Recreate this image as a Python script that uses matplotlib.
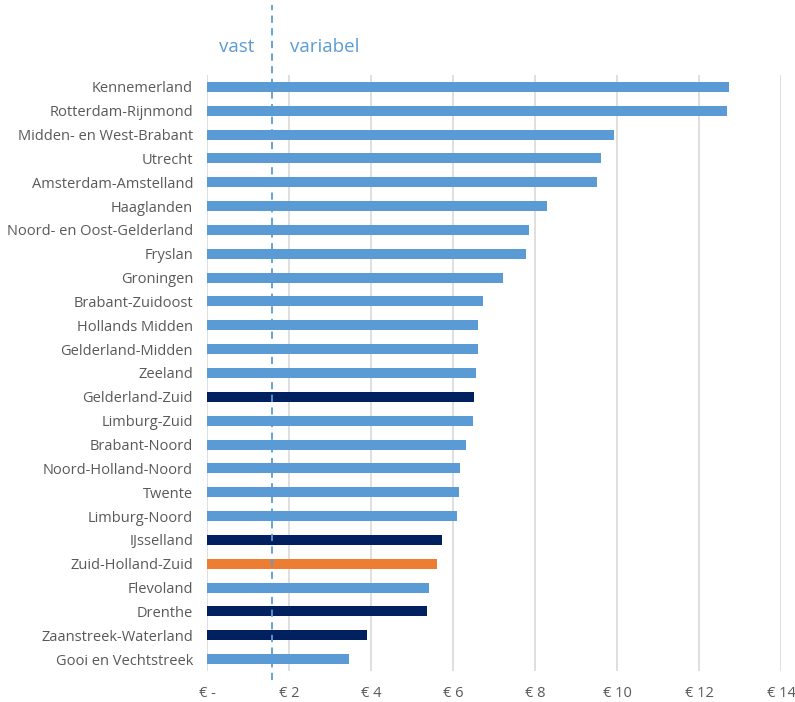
import numpy as np
from matplotlib import pyplot as plt
from matplotlib import transforms

regions = ['Kennemerland', 'Rotterdam-Rijnmond', 'Midden- en West-Brabant', 'Utrecht',
           'Amsterdam-Amstelland', 'Haaglanden', 'Noord- en Oost-Gelderland', 'Fryslan',
           'Groningen', 'Brabant-Zuidoost', 'Hollands Midden', 'Gelderland-Midden', 'Zeeland',
           'Gelderland-Zuid', 'Limburg-Zuid', 'Brabant-Noord', 'Noord-Holland-Noord', 'Twente',
           'Limburg-Noord', 'IJsselland', 'Zuid-Holland-Zuid', 'Flevoland', 'Drenthe',
           'Zaanstreek-Waterland', 'Gooi en Vechtstreek']
tarief = [12.72, 12.68, 9.93, 9.61, 9.50, 8.30, 7.86, 7.77, 7.21, 6.72, 6.60, 6.60, 6.55,
          6.51, 6.49, 6.32, 6.17, 6.15, 6.10, 5.74, 5.62, 5.42, 5.36, 3.91, 3.47]
# 'l' = licht blauw, 'd' = donker, 'o' = oranje
soort = ['l', 'l', 'l', 'l', 'l', 'l', 'l', 'l', 'l', 'l', 'l', 'l', 'l',
         'd', 'l', 'l', 'l', 'l', 'l', 'd', 'o', 'l', 'd', 'd', 'l']
grens_vast = 1.58
ticks = [0, 2, 4, 6, 8, 10, 12, 14]
tick_labels = ['€ -', '€ 2', '€ 4', '€ 6', '€ 8', '€ 10', '€ 12', '€ 14']

kleuren = {'l': '#5B9BD5', 'd': '#002060', 'o': '#ED7D31'}

plt.rcParams['font.family'] = ['Open Sans', 'DejaVu Sans']

fig = plt.figure(figsize=(7.95, 7.02), dpi=100)
ax = fig.add_axes([207 / 795, 1 - 671 / 702, (781 - 207) / 795, 596 / 702])

y = np.arange(len(regions))
ax.barh(y, tarief, height=0.42, color=[kleuren[s] for s in soort], zorder=3)
ax.set_ylim(len(regions) - 0.5, -0.5)
ax.set_xlim(0, 14)
ax.set_yticks(y)
ax.set_yticklabels(regions, fontsize=10.5, color='#595959')
ax.set_xticks(ticks)
ax.set_xticklabels(tick_labels, fontsize=10.5, color='#595959')
ax.tick_params(length=0)
ax.tick_params(axis='y', pad=10)
ax.tick_params(axis='x', pad=11)
ax.grid(True, axis='x', color='#D9D9D9', linewidth=1.2, zorder=0)
for s in ax.spines.values():
    s.set_visible(False)

trans = transforms.blended_transform_factory(ax.transData, ax.transAxes)
ax.plot([grens_vast, grens_vast], [-0.015, 1.117], transform=trans, clip_on=False,
        color='#5B9BD5', linestyle=(0, (4, 3)), linewidth=1.3, zorder=4)
ax.text(0.73, 1.047, 'vast', transform=trans, ha='center', va='center',
        fontsize=13.5, color='#5B9BD5')
ax.text(2.88, 1.047, 'variabel', transform=trans, ha='center', va='center',
        fontsize=13.5, color='#5B9BD5')

plt.savefig('out.png', dpi=100)
